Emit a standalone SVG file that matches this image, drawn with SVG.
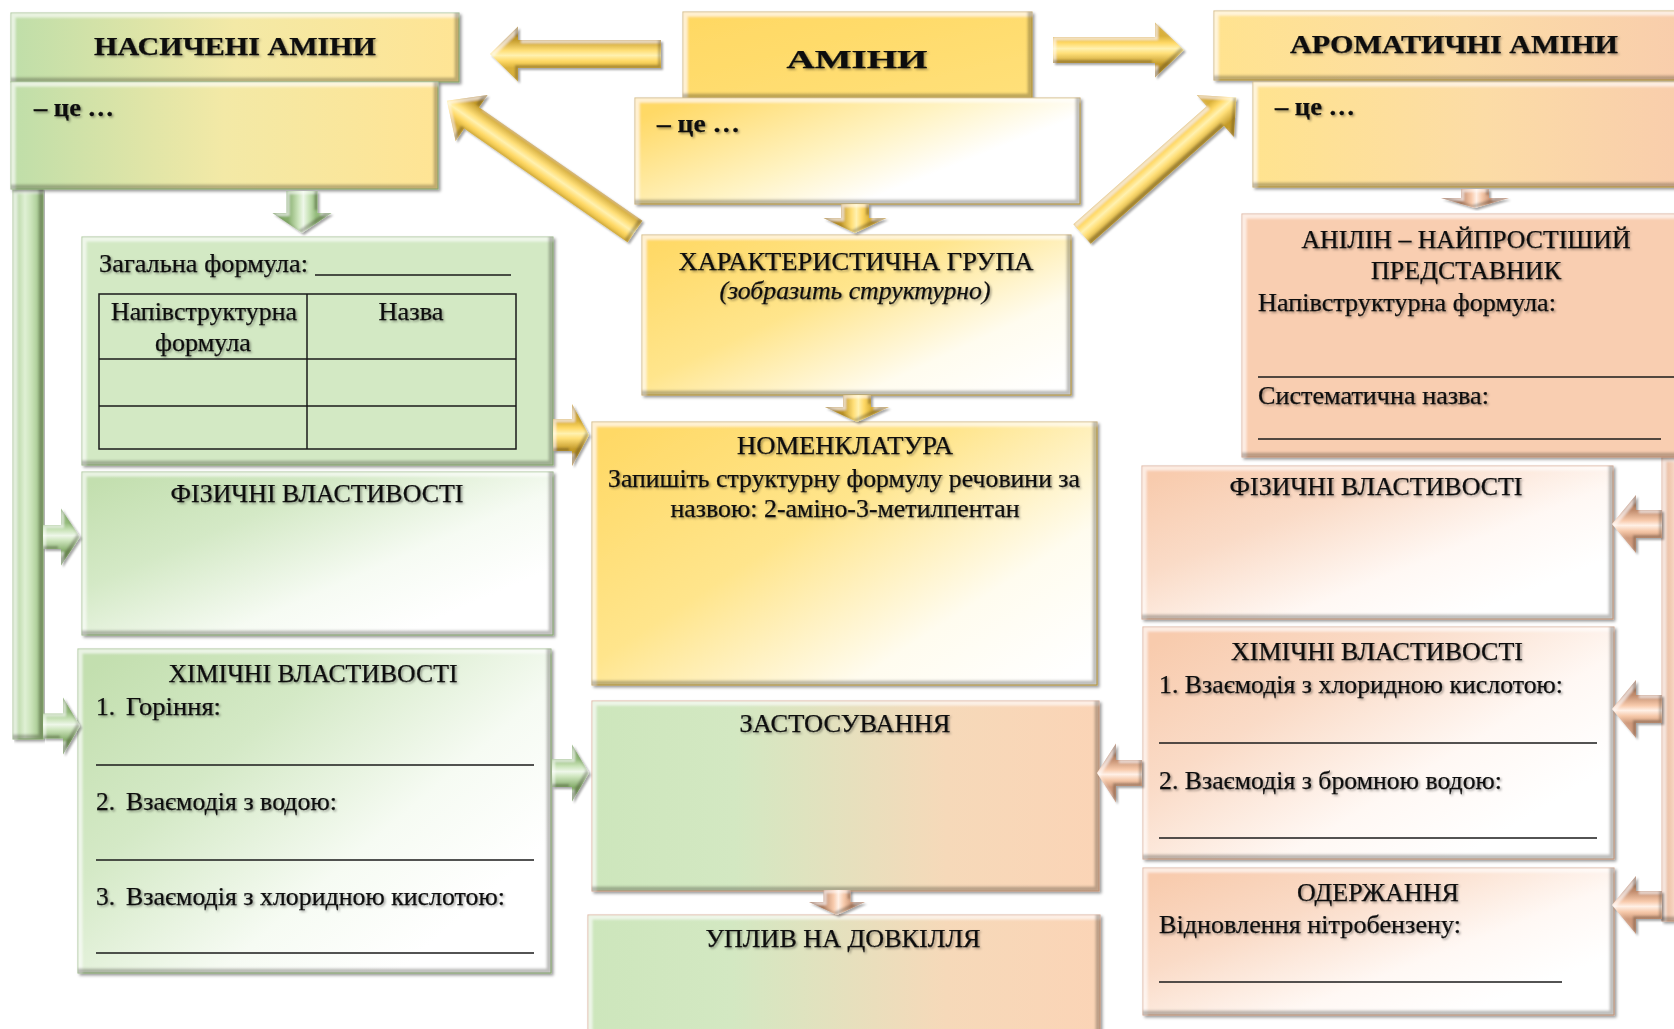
<svg xmlns="http://www.w3.org/2000/svg" width="1674" height="1029" viewBox="0 0 1674 1029">
<defs>
  <style>
    .t { font-family: "Liberation Serif", "Times New Roman", serif; font-size: 25.5px; fill: #111; stroke: #111; stroke-width: 0.25; filter: url(#ts); }
    .b { font-weight: bold; }
    .c { text-anchor: middle; }
    .i { font-style: italic; }
    .ln { stroke: #1a1a1a; stroke-width: 1.5; fill: none; }
    .box { filter: url(#bev); stroke-width: 1; }
    .sg { stroke: #93b97b; }
    .sy { stroke: #c9a53c; }
    .sp { stroke: #d7a283; }
    .arr { filter: url(#bevA); }
  </style>

  <!-- text shadow -->
  <filter id="ts" x="-5%" y="-20%" width="110%" height="150%">
    <feDropShadow dx="1.5" dy="1.5" stdDeviation="1" flood-color="#000" flood-opacity="0.38"/>
  </filter>

  <!-- bevelled box: light top/left rim, dark bottom/right rim, drop shadow -->
  <filter id="bev" x="-3%" y="-5%" width="108%" height="115%">
    <feOffset in="SourceAlpha" dx="5" dy="5" result="o1"/>
    <feComposite in="SourceAlpha" in2="o1" operator="out" result="tl"/>
    <feGaussianBlur in="tl" stdDeviation="1.2" result="tlb"/>
    <feComposite in="tlb" in2="SourceAlpha" operator="in" result="tlc"/>
    <feFlood flood-color="#ffffff" flood-opacity="0.6"/>
    <feComposite in2="tlc" operator="in" result="hi"/>
    <feOffset in="SourceAlpha" dx="-5" dy="-5" result="o2"/>
    <feComposite in="SourceAlpha" in2="o2" operator="out" result="br"/>
    <feGaussianBlur in="br" stdDeviation="1.2" result="brb"/>
    <feComposite in="brb" in2="SourceAlpha" operator="in" result="brc"/>
    <feFlood flood-color="#3b3526" flood-opacity="0.5"/>
    <feComposite in2="brc" operator="in" result="lo"/>
    <feGaussianBlur in="SourceAlpha" stdDeviation="1.5" result="sb"/>
    <feOffset in="sb" dx="2" dy="2" result="sbo"/>
    <feFlood flood-color="#000" flood-opacity="0.4"/>
    <feComposite in2="sbo" operator="in" result="shadow"/>
    <feMerge>
      <feMergeNode in="shadow"/>
      <feMergeNode in="SourceGraphic"/>
      <feMergeNode in="hi"/>
      <feMergeNode in="lo"/>
    </feMerge>
  </filter>

  <!-- bevelled block arrow -->
  <filter id="bevA" x="-15%" y="-15%" width="130%" height="130%">
    <feOffset in="SourceAlpha" dx="3" dy="3" result="o1"/>
    <feComposite in="SourceAlpha" in2="o1" operator="out" result="tl"/>
    <feGaussianBlur in="tl" stdDeviation="0.8" result="tlb"/>
    <feComposite in="tlb" in2="SourceAlpha" operator="in" result="tlc"/>
    <feFlood flood-color="#ffffff" flood-opacity="0.55"/>
    <feComposite in2="tlc" operator="in" result="hi"/>
    <feOffset in="SourceAlpha" dx="-3" dy="-3" result="o2"/>
    <feComposite in="SourceAlpha" in2="o2" operator="out" result="br"/>
    <feGaussianBlur in="br" stdDeviation="0.8" result="brb"/>
    <feComposite in="brb" in2="SourceAlpha" operator="in" result="brc"/>
    <feFlood flood-color="#3b3526" flood-opacity="0.5"/>
    <feComposite in2="brc" operator="in" result="lo"/>
    <feGaussianBlur in="SourceAlpha" stdDeviation="1.2" result="sb"/>
    <feOffset in="sb" dx="1.5" dy="1.5" result="sbo"/>
    <feFlood flood-color="#000" flood-opacity="0.35"/>
    <feComposite in2="sbo" operator="in" result="shadow"/>
    <feMerge>
      <feMergeNode in="shadow"/>
      <feMergeNode in="SourceGraphic"/>
      <feMergeNode in="hi"/>
      <feMergeNode in="lo"/>
    </feMerge>
  </filter>

  <!-- box fills -->
  <linearGradient id="gNas" x1="0" y1="0" x2="1" y2="0">
    <stop offset="0" stop-color="#bfdea9"/>
    <stop offset="0.5" stop-color="#f3e9a6"/>
    <stop offset="1" stop-color="#ffe494"/>
  </linearGradient>
  <linearGradient id="gAminHead" x1="0" y1="0" x2="1" y2="1">
    <stop offset="0" stop-color="#ffd862"/>
    <stop offset="1" stop-color="#ffe07a"/>
  </linearGradient>
  <linearGradient id="gAminCe" x1="0" y1="0.2" x2="1" y2="0.8">
    <stop offset="0" stop-color="#ffd966"/>
    <stop offset="0.45" stop-color="#fff3c2"/>
    <stop offset="0.72" stop-color="#ffffff"/>
    <stop offset="1" stop-color="#ffffff"/>
  </linearGradient>
  <linearGradient id="gAro" x1="0" y1="0" x2="1" y2="0">
    <stop offset="0" stop-color="#ffe38f"/>
    <stop offset="0.5" stop-color="#fcdca6"/>
    <stop offset="1" stop-color="#f8cbad"/>
  </linearGradient>
  <linearGradient id="gGreenW" x1="0" y1="0.1" x2="1" y2="0.9">
    <stop offset="0" stop-color="#c3dfaf"/>
    <stop offset="0.3" stop-color="#d4e9c6"/>
    <stop offset="0.62" stop-color="#f6fbf3"/>
    <stop offset="0.85" stop-color="#ffffff"/>
  </linearGradient>
  <linearGradient id="gYellowW" x1="0" y1="0.1" x2="1" y2="0.9">
    <stop offset="0" stop-color="#ffd966"/>
    <stop offset="0.4" stop-color="#ffe58c"/>
    <stop offset="0.75" stop-color="#fffcef"/>
    <stop offset="1" stop-color="#ffffff"/>
  </linearGradient>
  <linearGradient id="gPeachW" x1="0" y1="0.1" x2="1" y2="0.9">
    <stop offset="0" stop-color="#f8cbad"/>
    <stop offset="0.3" stop-color="#fadbc7"/>
    <stop offset="0.62" stop-color="#fff8f4"/>
    <stop offset="0.85" stop-color="#ffffff"/>
  </linearGradient>
  <linearGradient id="gMix" x1="0" y1="0" x2="1" y2="0">
    <stop offset="0" stop-color="#cde6bc"/>
    <stop offset="0.28" stop-color="#d3e8c2"/>
    <stop offset="0.7" stop-color="#f6d9b9"/>
    <stop offset="1" stop-color="#fbd4b6"/>
  </linearGradient>
  <linearGradient id="gBarG" x1="0" y1="0" x2="1" y2="0">
    <stop offset="0" stop-color="#a8cc91"/>
    <stop offset="0.4" stop-color="#dff0d4"/>
    <stop offset="0.6" stop-color="#cbe4ba"/>
    <stop offset="1" stop-color="#94bb7c"/>
  </linearGradient>
  <linearGradient id="gBarP" x1="0" y1="0" x2="1" y2="0">
    <stop offset="0" stop-color="#e3ae8e"/>
    <stop offset="0.4" stop-color="#fde4d4"/>
    <stop offset="0.6" stop-color="#f8cbad"/>
    <stop offset="1" stop-color="#d29a7a"/>
  </linearGradient>

  <!-- arrow fills, in the arrow's own frame (shaft along x, centred on y = 0) -->
  <linearGradient id="aY" gradientUnits="userSpaceOnUse" x1="0" y1="-14" x2="0" y2="14">
    <stop offset="0" stop-color="#d9b03a"/>
    <stop offset="0.25" stop-color="#ffd966"/>
    <stop offset="0.45" stop-color="#fff1b0"/>
    <stop offset="0.62" stop-color="#ffdf78"/>
    <stop offset="1" stop-color="#c49b2c"/>
  </linearGradient>
  <linearGradient id="aG" gradientUnits="userSpaceOnUse" x1="0" y1="-14" x2="0" y2="14">
    <stop offset="0" stop-color="#94bb7c"/>
    <stop offset="0.25" stop-color="#c9e3b8"/>
    <stop offset="0.45" stop-color="#eef7e9"/>
    <stop offset="0.62" stop-color="#cfe6bf"/>
    <stop offset="1" stop-color="#86ad6c"/>
  </linearGradient>
  <linearGradient id="aP" gradientUnits="userSpaceOnUse" x1="0" y1="-14" x2="0" y2="14">
    <stop offset="0" stop-color="#cf9a7b"/>
    <stop offset="0.25" stop-color="#f6c9aa"/>
    <stop offset="0.45" stop-color="#fff0e6"/>
    <stop offset="0.62" stop-color="#f8cbad"/>
    <stop offset="1" stop-color="#bf8a6b"/>
  </linearGradient>
</defs>

<rect width="1674" height="1029" fill="#ffffff"/>

<!-- side bars -->
<g id="bar-left">
  <rect class="box sg" x="13" y="189" width="30" height="550" fill="url(#gBarG)"/>
</g>
<g id="bar-right">
  <rect class="box sp" x="1662" y="457" width="40" height="464" fill="url(#gBarP)"/>
</g>

<!-- saturated amines column -->
<g id="nas-head">
  <rect class="box sg" x="11" y="13" width="448" height="69" fill="url(#gNas)"/>
  <text class="t b c" x="235" y="55" font-size="30" textLength="282" lengthAdjust="spacingAndGlyphs">НАСИЧЕНІ АМІНИ</text>
</g>
<g id="nas-def">
  <rect class="box sg" x="11" y="82" width="427" height="107" fill="url(#gNas)"/>
  <text class="t b" x="34" y="116" font-size="24" textLength="80" lengthAdjust="spacingAndGlyphs">– це …</text>
</g>
<g id="nas-formula">
  <rect class="box sg" x="82" y="237" width="471" height="228" fill="#d3e9c4"/>
  <text class="t" x="99" y="272" textLength="209" lengthAdjust="spacingAndGlyphs">Загальна формула:</text>
  <line class="ln" x1="315" y1="275" x2="511" y2="275"/>
  <rect class="ln" x="99" y="294" width="417" height="155"/>
  <line class="ln" x1="307" y1="294" x2="307" y2="449"/>
  <line class="ln" x1="99" y1="359" x2="516" y2="359"/>
  <line class="ln" x1="99" y1="406" x2="516" y2="406"/>
  <text class="t c" x="204" y="320" textLength="186" lengthAdjust="spacingAndGlyphs">Напівструктурна</text>
  <text class="t c" x="203" y="351" textLength="96" lengthAdjust="spacingAndGlyphs">формула</text>
  <text class="t c" x="411" y="320" textLength="65" lengthAdjust="spacingAndGlyphs">Назва</text>
</g>
<g id="nas-phys">
  <rect class="box sg" x="82" y="472" width="471" height="163" fill="url(#gGreenW)"/>
  <text class="t c" x="317" y="502" textLength="293" lengthAdjust="spacingAndGlyphs">ФІЗИЧНІ ВЛАСТИВОСТІ</text>
</g>
<g id="nas-chem">
  <rect class="box sg" x="78" y="649" width="473" height="324" fill="url(#gGreenW)"/>
  <text class="t c" x="313" y="682" textLength="289" lengthAdjust="spacingAndGlyphs">ХІМІЧНІ ВЛАСТИВОСТІ</text>
  <text class="t" x="96" y="715">1.</text>
  <text class="t" x="126" y="715" textLength="95" lengthAdjust="spacingAndGlyphs">Горіння:</text>
  <line class="ln" x1="96" y1="765" x2="534" y2="765"/>
  <text class="t" x="96" y="810">2.</text>
  <text class="t" x="126" y="810" textLength="211" lengthAdjust="spacingAndGlyphs">Взаємодія з водою:</text>
  <line class="ln" x1="96" y1="860" x2="534" y2="860"/>
  <text class="t" x="96" y="905">3.</text>
  <text class="t" x="126" y="905" textLength="379" lengthAdjust="spacingAndGlyphs">Взаємодія з хлоридною кислотою:</text>
  <line class="ln" x1="96" y1="953" x2="534" y2="953"/>
</g>

<!-- central column -->
<g id="amin-head">
  <rect class="box sy" x="683" y="12" width="349" height="86" fill="url(#gAminHead)"/>
  <text class="t b c" x="857" y="68" font-size="41" textLength="141" lengthAdjust="spacingAndGlyphs">АМІНИ</text>
</g>
<g id="amin-def">
  <rect class="box sy" x="635" y="98" width="445" height="106" fill="url(#gAminCe)"/>
  <text class="t b" x="657" y="132" font-size="24" textLength="83" lengthAdjust="spacingAndGlyphs">– це …</text>
</g>
<g id="char-group">
  <rect class="box sy" x="642" y="235" width="429" height="160" fill="url(#gYellowW)"/>
  <text class="t c" x="856" y="270" textLength="355" lengthAdjust="spacingAndGlyphs">ХАРАКТЕРИСТИЧНА ГРУПА</text>
  <text class="t c i" x="855" y="299" textLength="271" lengthAdjust="spacingAndGlyphs">(зобразить структурно)</text>
</g>
<g id="nomenclature">
  <rect class="box sy" x="592" y="422" width="505" height="263" fill="url(#gYellowW)"/>
  <text class="t c" x="845" y="454" textLength="216" lengthAdjust="spacingAndGlyphs">НОМЕНКЛАТУРА</text>
  <text class="t c" x="844" y="487" textLength="472" lengthAdjust="spacingAndGlyphs">Запишіть структурну формулу речовини за</text>
  <text class="t c" x="845" y="517" textLength="349" lengthAdjust="spacingAndGlyphs">назвою: 2-аміно-3-метилпентан</text>
</g>
<g id="usage">
  <rect class="box sp" x="592" y="701" width="507" height="190" fill="url(#gMix)"/>
  <text class="t c" x="845" y="732" textLength="211" lengthAdjust="spacingAndGlyphs">ЗАСТОСУВАННЯ</text>
</g>
<g id="environment">
  <rect class="box sp" x="588" y="915" width="512" height="130" fill="url(#gMix)"/>
  <text class="t c" x="843" y="947" textLength="275" lengthAdjust="spacingAndGlyphs">УПЛИВ НА ДОВКІЛЛЯ</text>
</g>

<!-- aromatic amines column -->
<g id="aro-head">
  <rect class="box sy" x="1214" y="11" width="500" height="69" fill="url(#gAro)"/>
  <text class="t b c" x="1454" y="53" font-size="30" textLength="328" lengthAdjust="spacingAndGlyphs">АРОМАТИЧНІ АМІНИ</text>
</g>
<g id="aro-def">
  <rect class="box sy" x="1253" y="82" width="460" height="105" fill="url(#gAro)"/>
  <text class="t b" x="1275" y="115" font-size="24" textLength="80" lengthAdjust="spacingAndGlyphs">– це …</text>
</g>
<g id="aniline">
  <rect class="box sp" x="1242" y="214" width="470" height="243" fill="#f9ceb1"/>
  <text class="t c" x="1466" y="248" textLength="329" lengthAdjust="spacingAndGlyphs">АНІЛІН – НАЙПРОСТІШИЙ</text>
  <text class="t c" x="1466" y="279" textLength="190" lengthAdjust="spacingAndGlyphs">ПРЕДСТАВНИК</text>
  <text class="t" x="1258" y="311" textLength="298" lengthAdjust="spacingAndGlyphs">Напівструктурна формула:</text>
  <line class="ln" x1="1258" y1="377" x2="1674" y2="377"/>
  <text class="t" x="1258" y="404" textLength="231" lengthAdjust="spacingAndGlyphs">Систематична назва:</text>
  <line class="ln" x1="1258" y1="439" x2="1661" y2="439"/>
</g>
<g id="aro-phys">
  <rect class="box sp" x="1142" y="466" width="471" height="153" fill="url(#gPeachW)"/>
  <text class="t c" x="1376" y="495" textLength="293" lengthAdjust="spacingAndGlyphs">ФІЗИЧНІ ВЛАСТИВОСТІ</text>
</g>
<g id="aro-chem">
  <rect class="box sp" x="1143" y="627" width="471" height="232" fill="url(#gPeachW)"/>
  <text class="t c" x="1377" y="660" textLength="292" lengthAdjust="spacingAndGlyphs">ХІМІЧНІ ВЛАСТИВОСТІ</text>
  <text class="t" x="1159" y="693" textLength="404" lengthAdjust="spacingAndGlyphs">1. Взаємодія з хлоридною кислотою:</text>
  <line class="ln" x1="1159" y1="743" x2="1597" y2="743"/>
  <text class="t" x="1159" y="789" textLength="343" lengthAdjust="spacingAndGlyphs">2. Взаємодія з бромною водою:</text>
  <line class="ln" x1="1159" y1="838" x2="1597" y2="838"/>
</g>
<g id="aro-prep">
  <rect class="box sp" x="1143" y="868" width="471" height="147" fill="url(#gPeachW)"/>
  <text class="t c" x="1378" y="901" textLength="162" lengthAdjust="spacingAndGlyphs">ОДЕРЖАННЯ</text>
  <text class="t" x="1159" y="933" textLength="302" lengthAdjust="spacingAndGlyphs">Відновлення нітробензену:</text>
  <line class="ln" x1="1159" y1="982" x2="1562" y2="982"/>
</g>

<!-- connectors: block arrows drawn along +x, then placed and turned -->
<g id="connectors">
  <g class="arr"><polygon fill="url(#aY)" transform="translate(661,54) rotate(180)" points="0,-14 143,-14 143,-27.5 171,0 143,27.5 143,14 0,14"/></g>
  <g class="arr"><polygon fill="url(#aY)" transform="translate(1053,50)" points="0,-13 102,-13 102,-27.5 131,0 102,27.5 102,13 0,13"/></g>
  <g class="arr"><polygon fill="url(#aY)" transform="translate(635,231.5) rotate(-145.2)" points="0,-13 199,-13 199,-28 229,0 199,28 199,13 0,13"/></g>
  <g class="arr"><polygon fill="url(#aY)" transform="translate(1082,234) rotate(-41.5)" points="0,-13 178,-13 178,-28 206,0 178,28 178,13 0,13"/></g>
  <g class="arr"><polygon fill="url(#aY)" transform="translate(855,204) rotate(90)" points="0,-14 14,-14 14,-31.5 29,0 14,31.5 14,14 0,14"/></g>
  <g class="arr"><polygon fill="url(#aG)" transform="translate(302,191) rotate(90)" points="0,-15.5 22,-15.5 22,-29.5 42,0 22,29.5 22,15.5 0,15.5"/></g>
  <g class="arr"><polygon fill="url(#aY)" transform="translate(857,395) rotate(90)" points="0,-14 12,-14 12,-32 27,0 12,32 12,14 0,14"/></g>
  <g class="arr"><polygon fill="url(#aY)" transform="translate(553,435)" points="0,-16 19,-16 19,-31 36,0 19,31 19,16 0,16"/></g>
  <g class="arr"><polygon fill="url(#aG)" transform="translate(552,773)" points="0,-14 20,-14 20,-28.5 37,0 20,28.5 20,14 0,14"/></g>
  <g class="arr"><polygon fill="url(#aP)" transform="translate(1142,773) rotate(180)" points="0,-13 26,-13 26,-29.5 45,0 26,29.5 26,13 0,13"/></g>
  <g class="arr"><polygon fill="url(#aG)" transform="translate(43,537)" points="0,-12 18,-12 18,-28.5 37,0 18,28.5 18,12 0,12"/></g>
  <g class="arr"><polygon fill="url(#aG)" transform="translate(43,726)" points="0,-12.5 20,-12.5 20,-28.5 37,0 20,28.5 20,12.5 0,12.5"/></g>
  <g class="arr"><polygon fill="url(#aP)" transform="translate(1662,524) rotate(180)" points="0,-14 26,-14 26,-29 50,0 26,29 26,14 0,14"/></g>
  <g class="arr"><polygon fill="url(#aP)" transform="translate(1662,709) rotate(180)" points="0,-14 26,-14 26,-29 50,0 26,29 26,14 0,14"/></g>
  <g class="arr"><polygon fill="url(#aP)" transform="translate(1662,905) rotate(180)" points="0,-14 26,-14 26,-29 50,0 26,29 26,14 0,14"/></g>
  <g class="arr"><polygon fill="url(#aP)" transform="translate(1475,189) rotate(90)" points="0,-14 9,-14 9,-34 19,0 9,34 9,14 0,14"/></g>
  <g class="arr"><polygon fill="url(#aP)" transform="translate(837,890) rotate(90)" points="0,-13.5 12,-13.5 12,-28 25,0 12,28 12,13.5 0,13.5"/></g>
</g>
</svg>
